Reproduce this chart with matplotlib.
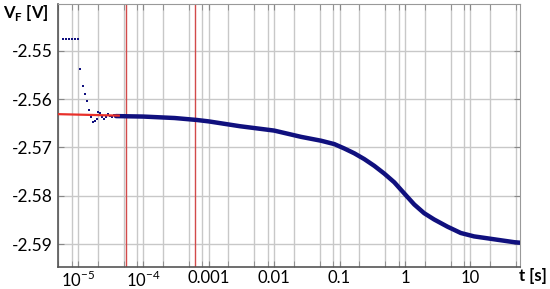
import matplotlib
matplotlib.use("Agg")
import matplotlib.pyplot as plt
from matplotlib.ticker import FixedLocator, NullFormatter

plt.rcParams['font.family'] = ['Lato', 'DejaVu Sans']
plt.rcParams['mathtext.fontset'] = 'custom'
plt.rcParams['mathtext.rm'] = 'Lato'
plt.rcParams['mathtext.bf'] = 'Lato:bold'

# early scattered samples (settling)
t_dots = [5.9e-6, 6.55e-6, 7.3e-6, 8.1e-6, 9.0e-6, 9.9e-6,
          1.085e-5, 1.18e-5, 1.28e-5, 1.39e-5, 1.47e-5, 1.58e-5, 1.70e-5,
          1.82e-5, 1.95e-5, 2.05e-5, 2.17e-5, 2.33e-5, 2.50e-5, 2.68e-5,
          2.88e-5, 3.10e-5, 3.30e-5, 3.56e-5, 3.80e-5]
v_dots = [-2.5476, -2.5476, -2.5476, -2.5476, -2.5476, -2.5476,
          -2.5538, -2.5572, -2.5590, -2.5604, -2.5622, -2.5636, -2.5647,
          -2.5646, -2.5642, -2.5627, -2.5629, -2.5636, -2.5642, -2.5637,
          -2.5631, -2.5635, -2.5637, -2.5633, -2.5635]

# main measured transient
t_main = [3.8e-5, 1e-4, 3e-4, 6.5e-4, 1e-3, 3e-3, 1e-2, 0.0258, 0.0522,
          0.0833, 0.118, 0.168, 0.239, 0.340, 0.483, 0.687, 0.976, 1.39,
          1.97, 2.80, 4.49, 7.16, 11.4, 18.3, 29.2, 46.7, 57]
v_main = [-2.5635, -2.5636, -2.5639, -2.5643, -2.5646, -2.5656, -2.5665,
          -2.5678, -2.5686, -2.5693, -2.5702, -2.5712, -2.5724, -2.5738,
          -2.5754, -2.5772, -2.5795, -2.5818, -2.5836, -2.5849, -2.5864,
          -2.5877, -2.5884, -2.5888, -2.5892, -2.5896, -2.5897]

# red extrapolation line and markers
t_fit = [5e-6, 4.2e-5]
v_fit = [-2.5631, -2.5634]
t_vlines = [5.5e-5, 6.2e-4]

x_major = [1e-5, 1e-4, 1e-3, 1e-2, 1e-1, 1, 10]
x_labels = ['$10^{-5}$', '$10^{-4}$', '0.001', '0.01', '0.1', '1', '10']
y_ticks = [-2.55, -2.56, -2.57, -2.58, -2.59]
y_labels = ['-2.55', '-2.56', '-2.57', '-2.58', '-2.59']

navy = '#10107e'
fig = plt.figure(figsize=(5.5, 2.89), dpi=100)
ax = fig.add_axes([58/550, 1-267.3/289, (519.7-58)/550, (267.3-4)/289])
ax.set_xscale('log')
ax.set_xlim(4.94e-6, 57)
ax.set_ylim(-2.5948, -2.5403)

minor = []
for d in range(-6, 2):
    for m in (2, 5, 8):
        minor.append(m * 10.0**d)
ax.xaxis.set_major_locator(FixedLocator(x_major))
ax.xaxis.set_minor_locator(FixedLocator(minor))
ax.xaxis.set_minor_formatter(NullFormatter())
ax.set_xticklabels(x_labels)
ax.set_yticks(y_ticks)
ax.set_yticklabels(y_labels)

ax.grid(True, which='both', axis='x', color='#c8c8c8', lw=1.0)
ax.grid(True, which='major', axis='y', color='#c8c8c8', lw=1.0)
ax.set_axisbelow(True)

ax.tick_params(which='both', direction='in', top=True, right=True,
               color='#888888', labelsize=12.5, labelcolor='black')
ax.tick_params(which='major', length=4)
ax.tick_params(which='minor', length=4)
ax.tick_params(axis='x', pad=2, labelsize=12)
ax.tick_params(axis='y', pad=4)

for s in ('top', 'right'):
    ax.spines[s].set_color('#999999')
for s in ('left', 'bottom'):
    ax.spines[s].set_color('#555555')
    ax.spines[s].set_linewidth(1.2)

for tv in t_vlines:
    ax.axvline(tv, color='#d24a4a', lw=1.0, zorder=2)

ax.plot(t_main, v_main, color=navy, lw=3.2, solid_capstyle='round',
        solid_joinstyle='round', zorder=3)
ax.plot(t_dots, v_dots, ls='none', marker='s', ms=2.0, mew=0, color=navy,
        zorder=4)
ax.plot(t_fit, v_fit, color='#e8302a', lw=1.6, zorder=5)

fig.text(3/550, 1-13/289, r'V$_\mathbf{F}$ [V]', fontsize=12, fontweight='bold',
         ha='left', va='center')
fig.text(533/550, 1-276/289, 't [s]', fontsize=12, fontweight='bold',
         ha='center', va='center')

fig.savefig('out.png', dpi=100)
